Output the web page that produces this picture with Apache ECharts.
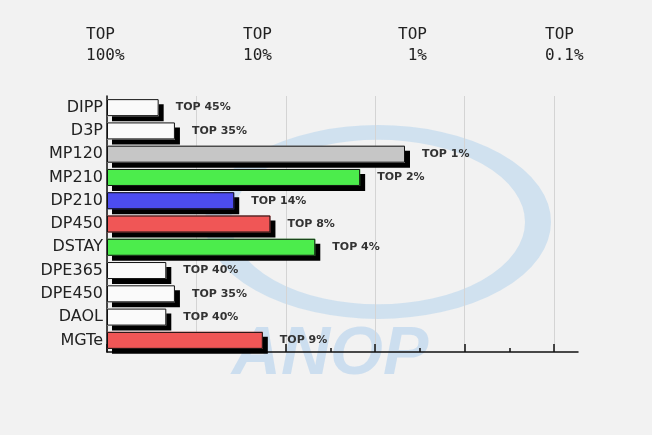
<!DOCTYPE html>
<html>
<head>
<meta charset="utf-8">
<script src="https://cdn.jsdelivr.net/npm/echarts@6/dist/echarts.min.js"></script>
<style>html,body{margin:0;padding:0;background:#f2f2f2}#c{width:652px;height:435px}</style>
</head>
<body>
<div id="c"></div>
<script>
const categories = ['DIPP','D3P','MP120','MP210','DP210','DP450','DSTAY','DPE365','DPE450','DAOL','MGTe'];
const topPercent = [45, 35, 1, 2, 14, 8, 4, 40, 35, 40, 9];
const barColors = ['#fafafa','#fafafa','#c6c6c6','#4cec4c','#4c4cf0','#f05656','#4cec4c','#fafafa','#fafafa','#fafafa','#f05656'];
const scaleLabels = ['100%', '10%', ' 1%', '0.1%'];
const scaleLabelShift = [-21, -13, -7, -9];

const decades = topPercent.map(p => Math.log10(100 / p));

const chart = echarts.init(document.getElementById('c'));
const rich = {};
scaleLabels.forEach((t, i) => {
  rich['t' + i] = {
    fontFamily: 'DejaVu Sans Mono', fontSize: 16, lineHeight: 21, color: '#222',
    padding: [0, 0, 0, scaleLabelShift[i]]
  };
});

const barData = decades.map((d, i) => ({ value: d, itemStyle: { color: barColors[i] } }));

chart.setOption({
  backgroundColor: '#f2f2f2',
  animation: false,
  graphic: [
    { type: 'circle', z: -10, x: 378, y: 222, scaleY: 0.56,
      shape: { cx: 0, cy: 0, r: 160 },
      style: { fill: 'none', stroke: '#cadeef', lineWidth: 26, opacity: 0.85 } },
    { type: 'text', z: -10, x: 330, y: 355,
      style: { text: 'ANOP', fill: '#c6dbee', opacity: 0.85, font: 'italic bold 68px "Liberation Sans"',
               textAlign: 'center', textVerticalAlign: 'middle' } }
  ],
  grid: [
    { left: 107, right: 98, top: 96, bottom: 83, containLabel: false },
    { left: 107, right: 74, top: 96, bottom: 83, containLabel: false }
  ],
  xAxis: [
    { type: 'value', gridIndex: 0, position: 'bottom', min: 0, max: 3, interval: 0.6,
      axisLine: { show: false },
      axisTick: { show: true, inside: true, length: 8, lineStyle: { color: '#111', width: 1.5 } },
      minorTick: { show: true, splitNumber: 2, length: 4, lineStyle: { color: '#111', width: 1.5 } },
      axisLabel: { show: false },
      splitLine: { show: true, lineStyle: { color: '#d4d4d4', width: 1 } } },
    { type: 'value', gridIndex: 0, position: 'top', min: 0, max: 3, interval: 1,
      axisLine: { show: false }, axisTick: { show: false }, splitLine: { show: false },
      axisLabel: { show: true, margin: 30, align: 'left',
        formatter: (v) => { const i = Math.round(v); return '{t' + i + '|TOP}\n{t' + i + '|' + scaleLabels[i] + '}'; },
        rich: rich } },
    { type: 'value', gridIndex: 1, position: 'bottom', min: 0, max: 1,
      axisLine: { show: true, lineStyle: { color: '#111', width: 1.5 } },
      axisTick: { show: false }, axisLabel: { show: false }, splitLine: { show: false } }
  ],
  yAxis: [
    { type: 'category', gridIndex: 0, data: categories, inverse: true,
      axisLine: { show: true, lineStyle: { color: '#111', width: 1.5 } },
      axisTick: { show: false },
      axisLabel: { margin: 4, fontFamily: 'DejaVu Sans', fontSize: 16, color: '#222' } },
    { type: 'category', gridIndex: 1, data: categories, inverse: true, show: false }
  ],
  series: [
    { type: 'bar', xAxisIndex: 0, yAxisIndex: 0, barWidth: 17, barGap: '-100%', z: 2,
      data: barData,
      itemStyle: { borderWidth: 0, shadowColor: '#000', shadowBlur: 0, shadowOffsetX: 5, shadowOffsetY: 5 },
      label: { show: false } },
    { type: 'bar', xAxisIndex: 0, yAxisIndex: 0, barWidth: 17, barGap: '-100%', z: 3,
      data: barData,
      itemStyle: { borderColor: '#111', borderWidth: 1 },
      label: { show: true, position: 'right', distance: 17,
        fontFamily: 'DejaVu Sans', fontWeight: 'bold', fontSize: 11, color: '#333',
        formatter: (p) => 'TOP ' + topPercent[p.dataIndex] + '%' } }
  ]
});
</script>
</body>
</html>
